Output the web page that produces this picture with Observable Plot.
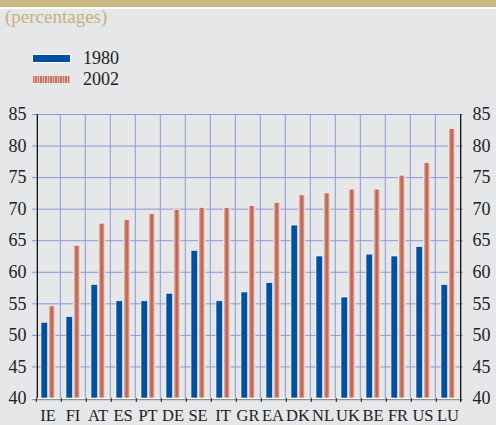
<!DOCTYPE html>
<html>
<head>
<meta charset="utf-8">
<script src="https://cdn.jsdelivr.net/npm/d3@7"></script>
<script src="https://cdn.jsdelivr.net/npm/@observablehq/plot@0.6"></script>
<style>
  html, body { margin: 0; padding: 0; background: #e6e7e9; }
  #wrap { position: relative; width: 496px; height: 425px; background: #e6e7e9; overflow: hidden; font-family: "Liberation Serif", "Times New Roman", serif; }
  .abs { position: absolute; line-height: 1; white-space: nowrap; }
</style>
</head>
<body>
<div id="wrap">
  <div class="abs" style="left:0;top:0;width:496px;height:7px;background:#c9b982"></div>
  <div class="abs" style="left:0;top:7px;width:496px;height:2px;background:#ffffff"></div>
  <div class="abs" style="left:5px;top:7px;font-size:19px;color:#c4b27c">(percentages)</div>
  <div class="abs" style="left:32px;top:54px;width:37px;height:7px;background:#0050a0;border:0.5px solid #fff"></div>
  <div class="abs" style="left:83px;top:49px;font-size:18px;color:#222">1980</div>
  <div class="abs" style="left:32px;top:75px;width:37px;height:7px;border:0.5px solid #f3e3dd;background:repeating-linear-gradient(90deg,#c27466 0 1.2px,#e6b8ab 1.2px 2.5px)"></div>
  <div class="abs" style="left:83px;top:70px;font-size:18px;color:#222">2002</div>
  <div id="chart" class="abs" style="left:0;top:100px"></div>
</div>
<script>
const categories = ["IE","FI","AT","ES","PT","DE","SE","IT","GR","EA","DK","NL","UK","BE","FR","US","LU"];
const v1980 = [52.0,52.9,58.0,55.4,55.4,56.6,63.4,55.4,56.8,58.3,67.4,62.5,56.0,62.8,62.5,64.0,58.0];
const v2002 = [54.6,64.2,67.7,68.3,69.2,69.9,70.2,70.2,70.5,71.0,72.2,72.5,73.1,73.1,75.3,77.3,82.7];
const yTicks = [40,45,50,55,60,65,70,75,80,85];

const data1980 = categories.map((c, i) => ({country: c, value: v1980[i]}));
const data2002 = categories.map((c, i) => ({country: c, value: v2002[i]}));

const W = 496, H = 325, mL = 32, mR = 33, mT = 14, mB = 27;
const band = (W - mL - mR) / categories.length;
const grid = "#8a97d8";

const chart = Plot.plot({
  width: W,
  height: H,
  marginLeft: mL,
  marginRight: mR,
  marginTop: mT,
  marginBottom: mB,
  style: {background: "transparent", fontFamily: "'Liberation Serif', 'Times New Roman', serif", color: "#222", overflow: "visible"},
  x: {domain: categories, padding: 0, axis: null},
  y: {domain: [40, 85], axis: null},
  marks: [
    Plot.gridY(yTicks, {stroke: grid, strokeOpacity: 1, strokeWidth: 1}),
    Plot.ruleX(categories.slice(1), {x: d => d, dx: -band / 2, y1: 40, y2: 85, stroke: grid, strokeWidth: 1}),
    Plot.barY(data1980, {x: "country", y1: 40, y2: "value", fill: "#0050a0", stroke: "#ffffff", strokeWidth: 0.6, insetLeft: 6, insetRight: band - 13}),
    Plot.barY(data2002, {x: "country", y1: 40, y2: "value", fill: "url(#redg)", stroke: "#f6e9e4", strokeWidth: 0.8, insetLeft: 13.6, insetRight: band - 20.4}),
    Plot.ruleY([40], {stroke: "#ffffff", strokeWidth: 1.2}),
    Plot.ruleY([40], {stroke: "#7a7a7a", strokeWidth: 1, dy: 1.2}),
    Plot.ruleX(categories, {x: d => d, dx: -band / 2 + 1, y1: 40, y2: 39.35, stroke: "#333", strokeWidth: 1.2}),
    Plot.ruleX([categories[0]], {x: d => d, dx: -band / 2 + 2, y1: 40, y2: 85, stroke: "#111", strokeWidth: 1.3}),
    Plot.ruleX([categories[categories.length - 1]], {x: d => d, dx: band / 2, y1: 39.35, y2: 85, stroke: "#111", strokeWidth: 1.3}),
    Plot.axisY(yTicks, {anchor: "left", label: null, tickSize: 0, tickPadding: 6, fontSize: 18, tickFormat: d => d}),
    Plot.axisY(yTicks, {anchor: "right", label: null, tickSize: 0, tickPadding: 9, fontSize: 18, tickFormat: d => d}),
    Plot.axisX(categories, {anchor: "bottom", label: null, tickSize: 0, tickPadding: 10.5, fontSize: 16.5})
  ]
});

const ns = "http://www.w3.org/2000/svg";
const defs = document.createElementNS(ns, "defs");
defs.innerHTML = '<linearGradient id="redg" x1="0" x2="1" y1="0" y2="0">' +
  '<stop offset="0" stop-color="#eac3b8"/>' +
  '<stop offset="0.22" stop-color="#d39283"/>' +
  '<stop offset="0.42" stop-color="#b86452"/>' +
  '<stop offset="0.65" stop-color="#c27363"/>' +
  '<stop offset="0.85" stop-color="#dfac9e"/>' +
  '<stop offset="1" stop-color="#f1d4cb"/>' +
  '</linearGradient>';
chart.insertBefore(defs, chart.firstChild);
document.getElementById("chart").appendChild(chart);
</script>
</body>
</html>
